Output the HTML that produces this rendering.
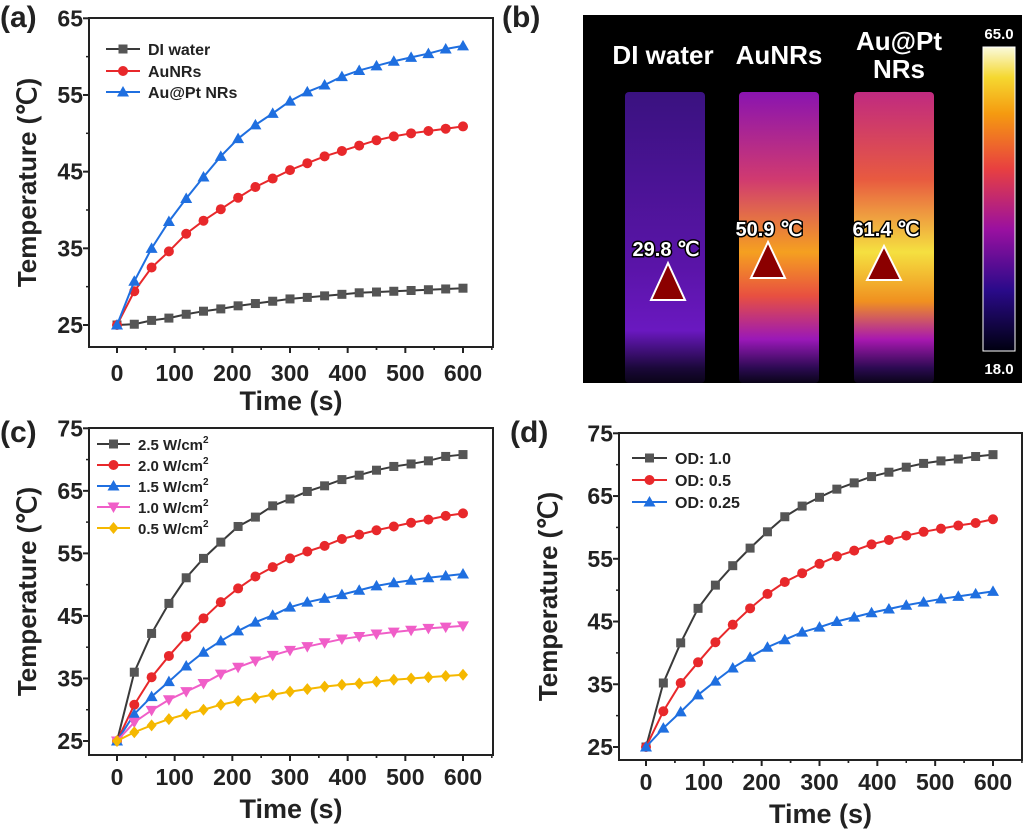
<!DOCTYPE html>
<html><head><meta charset="utf-8"><style>
body{margin:0;background:#fff;width:1024px;height:834px;overflow:hidden}
svg{display:block;font-family:"Liberation Sans",sans-serif;font-weight:bold}
</style></head><body>
<svg id="fig" width="1024" height="834" viewBox="0 0 1024 834">
<defs>
<linearGradient id="cbar" x1="0" y1="1" x2="0" y2="0">
<stop offset="0" stop-color="#000010"/><stop offset="0.2" stop-color="#2a0a8a"/><stop offset="0.4" stop-color="#9a10a0"/><stop offset="0.6" stop-color="#e84040"/><stop offset="0.78" stop-color="#f59a10"/><stop offset="0.9" stop-color="#f5d830"/><stop offset="1" stop-color="#fafadc"/>
</linearGradient>
<linearGradient id="tubeDI" x1="0" y1="0" x2="0" y2="1"><stop offset="0" stop-color="#3a1280"/><stop offset="0.6" stop-color="#5a14a8"/><stop offset="0.82" stop-color="#6a18c0"/><stop offset="0.95" stop-color="#1a0838"/><stop offset="1" stop-color="#0a0418"/></linearGradient>
<linearGradient id="tubeAu" x1="0" y1="0" x2="0" y2="1"><stop offset="0" stop-color="#8a14b0"/><stop offset="0.3" stop-color="#d03a70"/><stop offset="0.55" stop-color="#f5a020"/><stop offset="0.7" stop-color="#e85040"/><stop offset="0.85" stop-color="#9a18b8"/><stop offset="0.95" stop-color="#2a0a50"/><stop offset="1" stop-color="#0a0418"/></linearGradient>
<linearGradient id="tubePt" x1="0" y1="0" x2="0" y2="1"><stop offset="0" stop-color="#c02a80"/><stop offset="0.3" stop-color="#e85a40"/><stop offset="0.55" stop-color="#f5e040"/><stop offset="0.72" stop-color="#f09020"/><stop offset="0.85" stop-color="#a818b0"/><stop offset="0.95" stop-color="#2a0a50"/><stop offset="1" stop-color="#0a0418"/></linearGradient>
</defs>
<g id="panelB">
<rect x="583" y="15" width="439" height="368" fill="#000"/>
<rect x="625" y="92" width="80" height="291" rx="4" fill="url(#tubeDI)"/>
<rect x="739" y="92" width="80" height="291" rx="4" fill="url(#tubeAu)"/>
<rect x="854" y="92" width="80" height="291" rx="4" fill="url(#tubePt)"/>
<rect x="983" y="47" width="32" height="304" fill="url(#cbar)" stroke="#fff" stroke-width="1"/>
<text x="999" y="39" fill="#fff" font-size="15" text-anchor="middle">65.0</text>
<text x="999" y="374" fill="#fff" font-size="15" text-anchor="middle">18.0</text>
<text x="663" y="64" fill="#fff" font-size="26" text-anchor="middle">DI water</text>
<text x="779" y="64" fill="#fff" font-size="26" text-anchor="middle">AuNRs</text>
<text x="899" y="50" fill="#fff" font-size="26" text-anchor="middle">Au@Pt</text>
<text x="899" y="78" fill="#fff" font-size="26" text-anchor="middle">NRs</text>
<g font-size="20" fill="#fff" stroke="#000" stroke-width="3" paint-order="stroke" text-anchor="middle">
<text x="666" y="256">29.8 ℃</text>
<text x="769" y="236">50.9 ℃</text>
<text x="886" y="236">61.4 ℃</text>
</g>
<polygon points="668,263 651,300 685,300" fill="#8b0000" stroke="#fff" stroke-width="2"/>
<polygon points="768,242 751,278 785,278" fill="#8b0000" stroke="#fff" stroke-width="2"/>
<polygon points="884,246 867,280 901,280" fill="#8b0000" stroke="#fff" stroke-width="2"/>
</g>
<text x="0" y="27" font-size="30" fill="#222">(a)</text>
<text x="502" y="27" font-size="30" fill="#222">(b)</text>
<text x="0" y="442" font-size="30" fill="#222">(c)</text>
<text x="510" y="442" font-size="30" fill="#222">(d)</text>
</svg>
<script>
const times = [0,30,60,90,120,150,180,210,240,270,300,330,360,390,420,450,480,510,540,570,600];
const xTicks = [0,100,200,300,400,500,600];
const aLabels = ["DI water","AuNRs","Au@Pt NRs"];
const aWater = [25,25.1,25.6,25.9,26.4,26.8,27.1,27.5,27.8,28.1,28.4,28.6,28.8,29.0,29.2,29.3,29.4,29.5,29.6,29.7,29.8];
const aAu = [25,29.4,32.5,34.6,36.9,38.6,40.1,41.6,43,44.1,45.2,46.1,47,47.7,48.4,49.1,49.6,50,50.3,50.6,50.9];
const aPt = [25,30.7,35,38.5,41.5,44.3,47,49.3,51.1,52.6,54.2,55.4,56.3,57.4,58.2,58.8,59.4,59.9,60.4,61,61.4];
const aYTicks = [25,35,45,55,65];
const cLabels = ["2.5 W/cm","2.0 W/cm","1.5 W/cm","1.0 W/cm","0.5 W/cm"];
const c25 = [25,36,42.2,47,51.1,54.2,56.8,59.3,60.8,62.6,63.7,64.9,65.8,66.8,67.5,68.3,68.9,69.3,69.8,70.5,70.8];
const c20 = [25,30.8,35.2,38.6,41.7,44.6,47.2,49.4,51.3,52.8,54.2,55.3,56.2,57.3,58,58.7,59.3,59.9,60.4,61,61.4];
const c15 = [25,29.3,32.1,34.5,37,39.2,41,42.6,44,45.1,46.4,47.2,47.8,48.4,49.1,49.8,50.3,50.7,51.1,51.4,51.7];
const c10 = [25,28,29.9,31.6,32.9,34.2,35.7,36.8,37.8,38.7,39.5,40.1,40.7,41.3,41.7,42.1,42.4,42.7,43,43.2,43.4];
const c05 = [25,26.4,27.5,28.5,29.3,30,30.8,31.4,31.9,32.4,32.9,33.3,33.7,34,34.2,34.5,34.8,35,35.2,35.4,35.6];
const cdYTicks = [25,35,45,55,65,75];
const dLabels = ["OD: 1.0","OD: 0.5","OD: 0.25"];
const d10 = [25,35.2,41.6,47.1,50.8,53.9,56.7,59.3,61.7,63.4,64.8,66.1,67.1,68.1,68.8,69.6,70.2,70.6,70.9,71.3,71.6];
const d05 = [25,30.7,35.2,38.5,41.7,44.5,47.1,49.4,51.3,52.7,54.2,55.4,56.3,57.3,58,58.7,59.3,59.8,60.3,60.7,61.3];
const d025 = [25,28,30.6,33.3,35.5,37.6,39.3,40.9,42.1,43.3,44.1,45,45.7,46.4,47,47.6,48.1,48.6,49,49.4,49.8];

const NS="http://www.w3.org/2000/svg";
const svg=document.getElementById('fig');
function mk(tag,attrs,parent){const e=document.createElementNS(NS,tag);for(const k in attrs)e.setAttribute(k,attrs[k]);(parent||svg).appendChild(e);return e;}
const COL={black:['#3a3a3a','#555'],red:['#e8282b','#e8282b'],blue:['#1f6fe0','#1f6fe0'],pink:['#f05ec8','#f05ec8'],yellow:['#f5b800','#f5b800']};
function marker(g,shape,x,y,c){
  let e;
  if(shape==='sq'){e=mk('rect',{x:x-4.5,y:y-4.5,width:9,height:9,fill:c},g);}
  else if(shape==='ci'){e=mk('circle',{cx:x,cy:y,r:5,fill:c},g);}
  else if(shape==='tu'){e=mk('polygon',{points:`${x},${y-6} ${x-6},${y+4.5} ${x+6},${y+4.5}`,fill:c},g);}
  else if(shape==='td'){e=mk('polygon',{points:`${x},${y+6} ${x-6},${y-4.5} ${x+6},${y-4.5}`,fill:c},g);}
  else {e=mk('polygon',{points:`${x},${y-6} ${x-5},${y} ${x},${y+6} ${x+5},${y}`,fill:c},g);}
  return e;
}
function panel(p){
  const g=mk('g',{});
  
  
  const X=v=>p.x0+(v-0)*(p.x600-p.x0)/600;
  const Y=v=>p.yLo+(v-p.vLo)*(p.yHi-p.yLo)/(p.vHi-p.vLo);
  const box=mk('rect',{x:p.L,y:p.T,width:p.R-p.L,height:p.B-p.T,fill:'none',stroke:'#222','stroke-width':2},g);
  
  
  for(let i=0;i<p.yTicks.length;i++){
    const v=p.yTicks[i];const y=Y(v);
    const t=mk('line',{x1:p.L-6,x2:p.L,y1:y,y2:y,stroke:'#222','stroke-width':2},g);
    
    
    const lb=mk('text',{x:p.L-6,y:y+8,'font-size':23,'text-anchor':'end',fill:'#222'},g);lb.textContent=v;
    
    
    if(i<p.yTicks.length-1){const ym=Y(v+5);const m=mk('line',{x1:p.L-3,x2:p.L,y1:ym,y2:ym,stroke:'#222','stroke-width':1.5},g);
      
      }
  }
  for(let i=0;i<xTicks.length;i++){
    const v=xTicks[i];const x=X(v);
    const t=mk('line',{x1:x,x2:x,y1:p.B,y2:p.B+6,stroke:'#222','stroke-width':2},g);
    
    
    const lb=mk('text',{x:x,y:p.xLabY,'font-size':23,'text-anchor':'middle',fill:'#222'},g);lb.textContent=v;
    
    
    for(const mv of [v-50,v+50]){
      const xm=X(mv); if(xm<=p.L||xm>=p.R)continue;
      const m=mk('line',{x1:xm,x2:xm,y1:p.B,y2:p.B+3,stroke:'#222','stroke-width':1.5},g);
      
      }
  }
  const xt=mk('text',{x:(p.L+p.R)/2,y:p.xTitleY,'font-size':27,'text-anchor':'middle',fill:'#222'},g);xt.textContent='Time (s)';
  
  
  const yc=(p.T+p.B)/2;
  const yt=mk('text',{x:p.yTitleX,y:yc,'font-size':26,'text-anchor':'middle',fill:'#222',transform:`rotate(-90 ${p.yTitleX} ${yc})`},g);yt.textContent='Temperature (℃)';
  
  
  p.series.forEach((s,si)=>{
    const c=COL[s.col];
    const sg=mk('g',{},g);
    
    
    const pts=times.map((t,i)=>X(t)+','+Y(s.vals[i])).join(' ');
    const ln=mk('polyline',{points:pts,fill:'none',stroke:c[0],'stroke-width':2},sg);
    
    
    times.forEach((t,i)=>{const m=marker(sg,s.shape,X(t),Y(s.vals[i]),c[1]);
      
      });
    const ly=p.legY[si];
    const lg=mk('g',{},g);
    
    
    mk('line',{x1:p.legX1,x2:p.legX2,y1:ly,y2:ly,stroke:c[0],'stroke-width':2},lg);
    marker(lg,s.shape,(p.legX1+p.legX2)/2,ly,c[1]);
    const tx=mk('text',{x:p.legX2+8,y:ly+6,'font-size':p.legFs,fill:'#222'},lg);tx.textContent=s.label;
    if(s.sup){const su=mk('tspan',{'font-size':10,dy:-7},tx);su.textContent='2';}
  });
}
panel({name:'chart-a',L:89,R:493,T:18,B:347,x0:117,x600:463,vLo:25,vHi:65,yLo:325,yHi:18.3,yTicks:aYTicks,xLabY:381,xTitleY:410,yTitleX:36,
  legX1:106,legX2:140,legY:[49,71,92],legFs:16,
  series:[{key:'di-water',label:aLabels[0],vals:aWater,col:'black',shape:'sq'},{key:'aunrs',label:aLabels[1],vals:aAu,col:'red',shape:'ci'},{key:'aupt-nrs',label:aLabels[2],vals:aPt,col:'blue',shape:'tu'}]});
panel({name:'chart-c',L:89,R:493,T:428,B:755,x0:117,x600:463,vLo:25,vHi:75,yLo:741,yHi:428.3,yTicks:cdYTicks,xLabY:785,xTitleY:818,yTitleX:36,
  legX1:97,legX2:130,legY:[444,465,486,507,528],legFs:15,
  series:[{key:'2-5w',label:cLabels[0],vals:c25,col:'black',shape:'sq',sup:1},{key:'2-0w',label:cLabels[1],vals:c20,col:'red',shape:'ci',sup:1},{key:'1-5w',label:cLabels[2],vals:c15,col:'blue',shape:'tu',sup:1},{key:'1-0w',label:cLabels[3],vals:c10,col:'pink',shape:'td',sup:1},{key:'0-5w',label:cLabels[4],vals:c05,col:'yellow',shape:'di',sup:1}]});
panel({name:'chart-d',L:619,R:1022,T:433,B:760,x0:646,x600:993,vLo:25,vHi:75,yLo:747,yHi:433.3,yTicks:cdYTicks,xLabY:790,xTitleY:823,yTitleX:557,
  legX1:632,legX2:667,legY:[458,480,502],legFs:16,
  series:[{key:'od-1-0',label:dLabels[0],vals:d10,col:'black',shape:'sq'},{key:'od-0-5',label:dLabels[1],vals:d05,col:'red',shape:'ci'},{key:'od-0-25',label:dLabels[2],vals:d025,col:'blue',shape:'tu'}]});
</script>
</body></html>
